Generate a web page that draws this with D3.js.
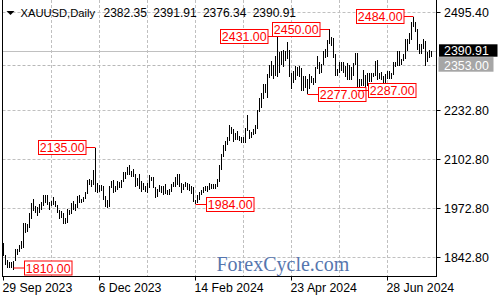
<!DOCTYPE html>
<html><head><meta charset="utf-8">
<script src="https://cdn.jsdelivr.net/npm/d3@7"></script>
<style>html,body{margin:0;padding:0;background:#fff;}svg{display:block;}</style>
</head><body><svg id="c" width="500" height="300"></svg>
<script>
// ---- data ----
const dates = [
"2023-09-29","2023-10-02","2023-10-03","2023-10-04","2023-10-05","2023-10-06","2023-10-09","2023-10-10","2023-10-11","2023-10-12",
"2023-10-13","2023-10-16","2023-10-17","2023-10-18","2023-10-19","2023-10-20","2023-10-23","2023-10-24","2023-10-25","2023-10-26",
"2023-10-27","2023-10-30","2023-10-31","2023-11-01","2023-11-02","2023-11-03","2023-11-06","2023-11-07","2023-11-08","2023-11-09",
"2023-11-10","2023-11-13","2023-11-14","2023-11-15","2023-11-16","2023-11-17","2023-11-20","2023-11-21","2023-11-22","2023-11-23",
"2023-11-24","2023-11-27","2023-11-28","2023-11-29","2023-11-30","2023-12-01","2023-12-04","2023-12-05","2023-12-06","2023-12-07",
"2023-12-08","2023-12-11","2023-12-12","2023-12-13","2023-12-14","2023-12-15","2023-12-18","2023-12-19","2023-12-20","2023-12-21",
"2023-12-22","2023-12-26","2023-12-27","2023-12-28","2023-12-29","2024-01-02","2024-01-03","2024-01-04","2024-01-05","2024-01-08",
"2024-01-09","2024-01-10","2024-01-11","2024-01-12","2024-01-15","2024-01-16","2024-01-17","2024-01-18","2024-01-19","2024-01-22",
"2024-01-23","2024-01-24","2024-01-25","2024-01-26","2024-01-29","2024-01-30","2024-01-31","2024-02-01","2024-02-02","2024-02-05",
"2024-02-06","2024-02-07","2024-02-08","2024-02-09","2024-02-12","2024-02-13","2024-02-14","2024-02-15","2024-02-16","2024-02-19",
"2024-02-20","2024-02-21","2024-02-22","2024-02-23","2024-02-26","2024-02-27","2024-02-28","2024-02-29","2024-03-01","2024-03-04",
"2024-03-05","2024-03-06","2024-03-07","2024-03-08","2024-03-11","2024-03-12","2024-03-13","2024-03-14","2024-03-15","2024-03-18",
"2024-03-19","2024-03-20","2024-03-21","2024-03-22","2024-03-25","2024-03-26","2024-03-27","2024-03-28","2024-04-01","2024-04-02",
"2024-04-03","2024-04-04","2024-04-05","2024-04-08","2024-04-09","2024-04-10","2024-04-11","2024-04-12","2024-04-15","2024-04-16",
"2024-04-17","2024-04-18","2024-04-19","2024-04-22","2024-04-23","2024-04-24","2024-04-25","2024-04-26","2024-04-29","2024-04-30",
"2024-05-01","2024-05-02","2024-05-03","2024-05-06","2024-05-07","2024-05-08","2024-05-09","2024-05-10","2024-05-13","2024-05-14",
"2024-05-15","2024-05-16","2024-05-17","2024-05-20","2024-05-21","2024-05-22","2024-05-23","2024-05-24","2024-05-27","2024-05-28",
"2024-05-29","2024-05-30","2024-05-31","2024-06-03","2024-06-04","2024-06-05","2024-06-06","2024-06-07","2024-06-10","2024-06-11",
"2024-06-12","2024-06-13","2024-06-14","2024-06-17","2024-06-18","2024-06-19","2024-06-20","2024-06-21","2024-06-24","2024-06-25",
"2024-06-26","2024-06-27","2024-06-28","2024-07-01","2024-07-02","2024-07-03","2024-07-04","2024-07-05","2024-07-08","2024-07-09",
"2024-07-10","2024-07-11","2024-07-12","2024-07-15","2024-07-16","2024-07-17","2024-07-18","2024-07-19","2024-07-22","2024-07-23",
"2024-07-24","2024-07-25","2024-07-26","2024-07-29","2024-07-30"];

const highs = [
1880,1848,1835,1829,1830,1834,1865,1865,1875,1885,
1933,1935,1932,1962,1987,1997,1980,1977,1986,1991,
2009,2010,2008,1990,1994,2004,1993,1981,1970,1965,
1960,1947,1971,1970,1988,1993,1985,2007,2008,1997,
2004,2018,2048,2052,2048,2075,2135,2040,2036,2035,
2034,2006,1995,2033,2047,2049,2032,2046,2043,2048,
2071,2070,2083,2088,2073,2078,2065,2055,2064,2046,
2040,2034,2040,2062,2058,2057,2031,2026,2035,2033,
2034,2038,2023,2025,2038,2043,2056,2065,2066,2040,
2039,2043,2042,2037,2032,2031,1996,2008,2016,2022,
2030,2033,2034,2041,2039,2038,2038,2052,2088,2119,
2141,2152,2164,2195,2189,2184,2175,2180,2167,2164,
2163,2188,2223,2181,2176,2185,2195,2236,2266,2280,
2305,2305,2330,2354,2365,2354,2378,2431,2390,2392,
2395,2393,2417,2394,2335,2339,2352,2351,2353,2346,
2326,2326,2319,2331,2326,2320,2351,2378,2364,2359,
2392,2397,2422,2450,2429,2426,2385,2345,2364,2364,
2362,2352,2360,2354,2351,2360,2388,2387,2317,2318,
2342,2328,2335,2334,2335,2333,2365,2368,2335,2336,
2325,2331,2340,2339,2334,2364,2363,2392,2393,2372,
2385,2425,2424,2440,2469,2484,2470,2452,2411,2412,
2423,2419,2390,2394,2391.91];

const lows = [
1846,1822,1815,1815,1813,1810,1833,1850,1857,1866,
1868,1908,1909,1922,1944,1965,1960,1954,1962,1970,
1979,1988,1981,1970,1979,1983,1977,1961,1946,1947,
1931,1932,1934,1956,1958,1970,1965,1975,1988,1988,
1990,1998,2012,2036,2031,2035,2018,2014,2017,2020,
1995,1976,1973,1977,2027,2014,2016,2023,2027,2027,
2044,2052,2061,2063,2057,2058,2031,2033,2024,2016,
2023,2016,2013,2028,2047,2028,2002,2004,2016,2015,
2010,2011,2010,2010,2016,2030,2030,2036,2030,2014,
2021,2030,2022,2020,2012,1990,1984,1988,1995,2009,
2013,2019,2016,2021,2026,2025,2024,2031,2043,2076,
2111,2126,2142,2152,2170,2150,2156,2154,2153,2146,
2146,2146,2180,2157,2160,2168,2172,2185,2229,2241,
2265,2280,2267,2321,2326,2319,2327,2324,2334,2354,
2350,2365,2372,2322,2291,2308,2314,2326,2324,2285,
2285,2295,2277,2291,2307,2303,2306,2345,2332,2334,
2354,2373,2376,2410,2406,2373,2326,2325,2335,2339,
2333,2323,2314,2314,2316,2326,2354,2287,2287,2298,
2299,2295,2299,2310,2309,2322,2327,2316,2317,2316,
2294,2297,2319,2318,2319,2328,2350,2353,2353,2355,
2365,2370,2393,2410,2421,2456,2444,2394,2384,2385,
2398,2353,2364,2375,2376.34];

const symbolName = "XAUUSD,Daily";
const lastOHLC = [2382.35, 2391.91, 2376.34, 2390.91];
const priceTicks = [1842.8, 1972.8, 2102.8, 2232.8, 2495.4];
const dateTicks = ["2023-09-29","2023-12-06","2024-02-14","2024-04-23","2024-06-28"];
const currentPrice = 2390.91;
const levelPrice = 2353.00;
const markDates  = ["2023-10-06","2023-12-04","2024-02-14","2024-04-12","2024-05-20","2024-05-03","2024-06-07","2024-07-17"];
const markValues = [1810, 2135, 1984, 2431, 2450, 2277, 2287, 2484];
const markSides  = ["low","high","low","high","high","low","low","high"];
const watermark = "ForexCycle.com";

// ---- layout ----
const svg = d3.select("#c");
const left = 2.5, right = 436.5, bottom = 276.5;
const FONT = "'Liberation Sans', Arial, sans-serif";
const snap = v => Math.floor(v) + 0.5;

const x = d3.scaleBand().domain(dates).range([2.5, 2.5 + 2 * dates.length]).padding(0);
const xc = d => x(d) + x.bandwidth() / 2;
const y = d3.scaleLinear().domain([1842.8, 2495.4]).range([257.3, 12.3]);

// gridlines
const grid = svg.append("g").attr("stroke", "#c0c0c0").attr("stroke-dasharray", "3,2").attr("fill", "none");
grid.selectAll("line.h").data(priceTicks).join("line")
  .attr("x1", left).attr("x2", right)
  .attr("y1", d => snap(y(d))).attr("y2", d => snap(y(d)));
const gridDates = dates.filter((d, i) => i > 0 && i % 24 === 0);
grid.selectAll("line.v").data(gridDates).join("line")
  .attr("x1", d => xc(d)).attr("x2", d => xc(d))
  .attr("y1", 0).attr("y2", bottom);

// level line (dashed) and current price line
svg.append("line").attr("x1", left).attr("x2", right)
  .attr("y1", snap(y(levelPrice))).attr("y2", snap(y(levelPrice)))
  .attr("stroke", "#b8b8b8").attr("stroke-dasharray", "3,2");
svg.append("line").attr("x1", left).attr("x2", right)
  .attr("y1", snap(y(currentPrice))).attr("y2", snap(y(currentPrice)))
  .attr("stroke", "#c0c0c0");

// watermark
svg.append("text").attr("x", 216.5).attr("y", 271)
  .attr("font-family", "'Liberation Serif', 'Times New Roman', serif")
  .attr("font-size", 20).attr("fill", "#5676ae").text(watermark);

// bars (high-low)
svg.append("g").selectAll("rect").data(dates).join("rect")
  .attr("shape-rendering", "crispEdges")
  .attr("x", d => x(d) + 0.5).attr("width", 1)
  .attr("y", (d, i) => y(highs[i]))
  .attr("height", (d, i) => Math.max(1, y(lows[i]) - y(highs[i])))
  .attr("fill", "#000");

// frame
const frame = svg.append("g").attr("stroke", "#000").attr("shape-rendering", "crispEdges");
frame.append("line").attr("x1", left).attr("x2", left).attr("y1", 0).attr("y2", bottom);
frame.append("line").attr("x1", right).attr("x2", right).attr("y1", 0).attr("y2", bottom);
frame.append("line").attr("x1", left).attr("x2", right).attr("y1", bottom).attr("y2", bottom);

// right axis
const yAxis = d3.axisRight(y).tickValues(priceTicks).tickFormat(d3.format(".2f"))
  .tickSize(4).tickPadding(3.5).offset(0);
const ya = svg.append("g").attr("transform", `translate(${right},0)`).call(yAxis);
ya.select(".domain").remove();
ya.selectAll(".tick").attr("transform", d => `translate(0,${snap(y(d))})`);
ya.selectAll(".tick text").attr("font-family", FONT).attr("font-size", 12.4).attr("fill", "#000").attr("dy", "0.36em");

// bottom axis
const parse = d3.timeParse("%Y-%m-%d");
const fmt = d3.timeFormat("%-d %b %Y");
const xAxis = d3.axisBottom(x).tickValues(dateTicks).tickFormat(d => fmt(parse(d)))
  .tickSize(4).tickPadding(3).offset(0);
const xa = svg.append("g").attr("transform", `translate(0,${bottom})`).call(xAxis);
xa.select(".domain").remove();
xa.selectAll(".tick text").attr("font-family", FONT).attr("font-size", 12.3)
  .attr("fill", "#000").attr("text-anchor", "start").attr("dx", -1).attr("dy", "0.72em");

// price boxes on right axis
const cy = snap(y(currentPrice)), ly = snap(y(levelPrice));
svg.append("rect").attr("x", 438.5).attr("y", ly - 8.4).attr("width", 55).attr("height", 14.6).attr("fill", "#a6a6a6");
svg.append("text").attr("x", 444).attr("y", ly + 4.3).attr("font-family", FONT).attr("font-size", 12.4)
  .attr("fill", "#fff").text(d3.format(".2f")(levelPrice));
svg.append("rect").attr("x", 439).attr("y", cy - 7.2).attr("width", 58.5).attr("height", 12.4).attr("fill", "#000");
svg.append("text").attr("x", 444).attr("y", cy + 3.8).attr("font-family", FONT).attr("font-size", 12.4)
  .attr("fill", "#fff").text(d3.format(".2f")(currentPrice));

// marker labels
const marks = markDates.map((d, i) => ({d, v: markValues[i], side: markSides[i]}));
const mg = svg.append("g");
marks.forEach(m => {
  const bx = xc(m.d), py = snap(y(m.v));
  const bw = 47.5, bh = 14;
  const bl = m.side === "high" ? bx - 10 - bw : bx + 10.5;
  const edge = m.side === "high" ? bl + bw : bl;
  const by = Math.min(py - 7, bottom - 1.5 - bh); // keep box inside the plot
  const ty = by + 7;
  mg.append("line").attr("x1", bx).attr("x2", edge).attr("y1", ty).attr("y2", ty).attr("stroke", "#ff0000");
  mg.append("rect").attr("x", snap(bl)).attr("y", by).attr("width", bw).attr("height", bh)
    .attr("fill", "#fff").attr("stroke", "#ff0000");
  mg.append("text").attr("x", snap(bl) + bw / 2).attr("y", ty + 4.5).attr("text-anchor", "middle")
    .attr("font-family", FONT).attr("font-size", 12.4).attr("fill", "#ff0000").text(d3.format(".2f")(m.v));
});

// title
svg.append("path").attr("d", "M6.5,11 L14.5,11 L10.5,15 Z").attr("fill", "#000");
svg.append("text").attr("x", 20.5).attr("y", 17).attr("font-family", FONT).attr("font-size", 11.2)
  .attr("fill", "#000").text(symbolName);
svg.append("text").attr("x", 103.5).attr("y", 17).attr("font-family", FONT).attr("font-size", 12)
  .attr("word-spacing", "3px").attr("fill", "#000")
  .text(lastOHLC.map(d3.format(".2f")).join(" "));
</script></body></html>
